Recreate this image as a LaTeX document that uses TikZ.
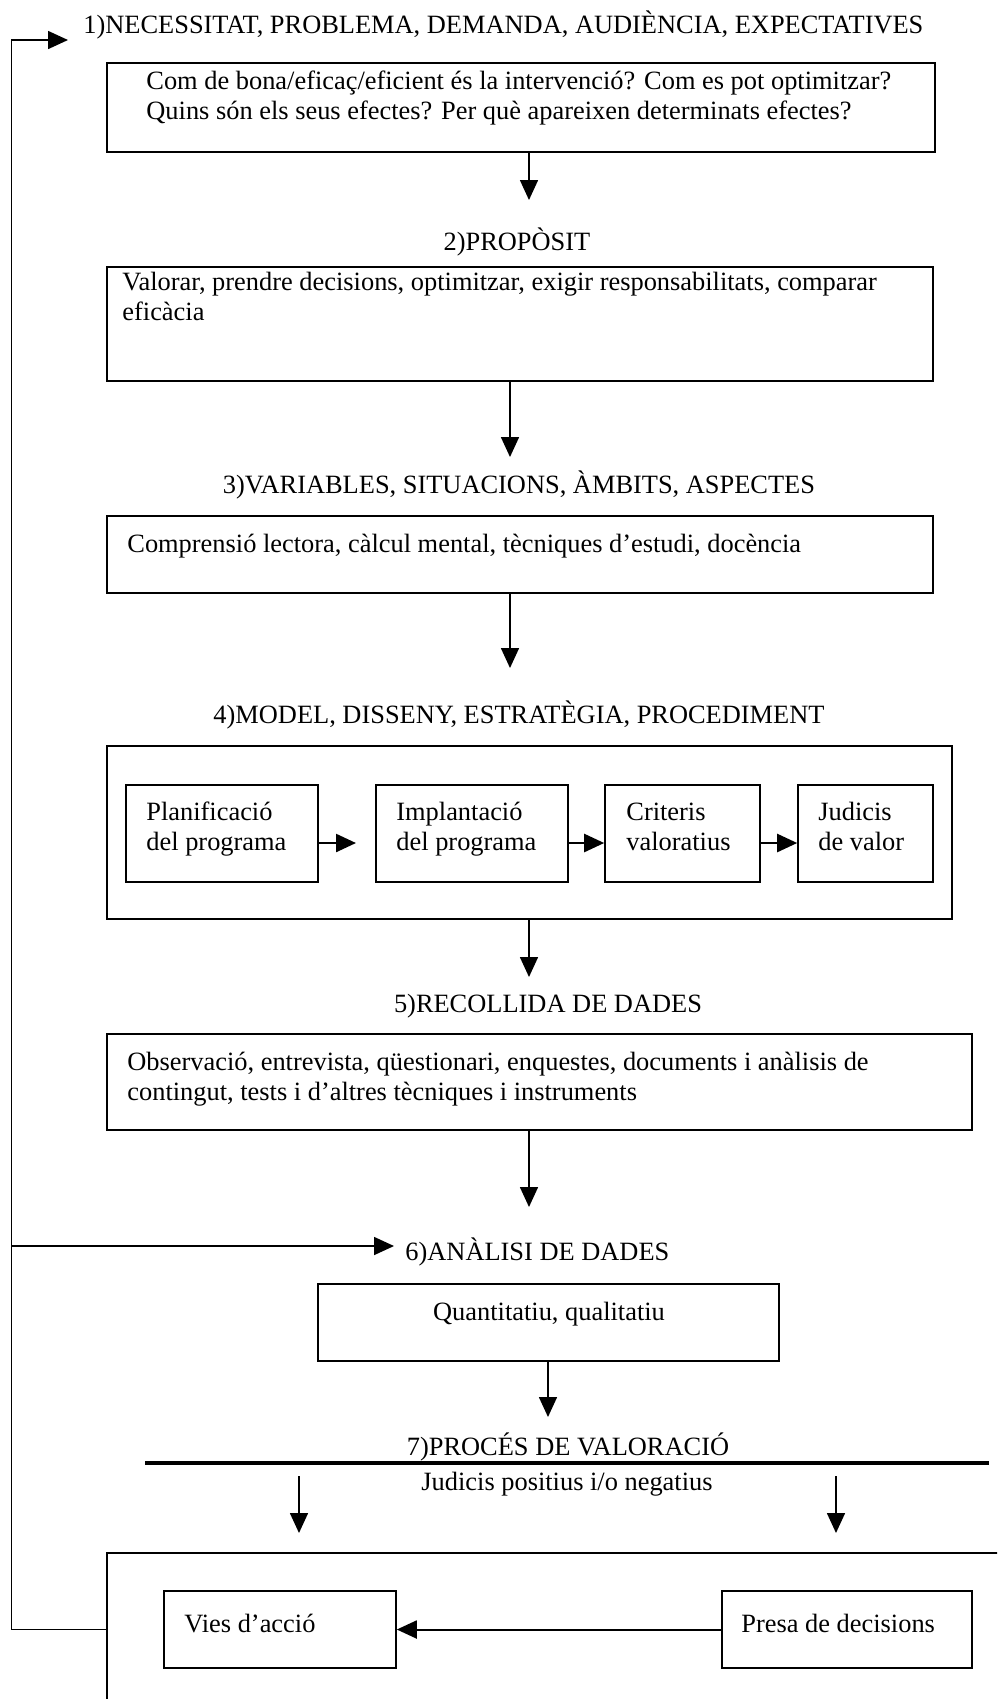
\documentclass[tikz,border=0pt]{standalone}
\usepackage{fontspec}
\setmainfont{Liberation Serif}
\usetikzlibrary{arrows.meta,fit,calc}
\begin{document}
\begin{tikzpicture}[x=0.5pt,y=-0.5pt,
  box/.style={draw, line width=0.8pt, inner sep=0pt},
  txt/.style={inner sep=0pt, align=left, font=\fontsize{13.2}{14.8}\selectfont},
  ttl/.style={inner sep=0pt, font=\fontsize{13.2}{14.8}\selectfont},
  arr/.style={line width=0.8pt, -{Triangle[length=10pt,width=9pt]}},
  larr/.style={line width=1.2pt, -{Triangle[length=10pt,width=9pt]}},
  thickln/.style={line width=2.25pt}]
\useasboundingbox (0,0) rectangle (997,1699);
\clip (0,0) rectangle (997,1699);
\fill[white] (0,0) rectangle (997,1699);

% 1
\node[ttl, anchor=base west] (t1) at (83,33) {1)NECESSITAT, PROBLEMA, DEMANDA, AUDIÈNCIA, EXPECTATIVES};
\node[box, fit={(107,63) (935,152)}] (b1) {};
\node[txt, anchor=base west] (x1) at (146,119) {Com de bona/eficaç/eficient és la intervenció? Com es pot optimitzar?\\Quins són els seus efectes? Per què apareixen determinats efectes?};
\coordinate (a1) at (529,200);
\draw[arr] (b1.south -| a1) -- (a1);

% 2
\node[ttl, anchor=base] (t2) at (517,250) {2)PROPÒSIT};
\node[box, fit={(107,267) (933,381)}] (b2) {};
\node[txt, anchor=base west] (x2) at (122,320) {Valorar, prendre decisions, optimitzar, exigir responsabilitats, comparar\\eficàcia};
\coordinate (a2) at (510,457);
\draw[arr] (b2.south -| a2) -- (a2);

% 3
\node[ttl, anchor=base] (t3) at (519,493) {3)VARIABLES, SITUACIONS, ÀMBITS, ASPECTES};
\node[box, fit={(107,516) (933,593)}] (b3) {};
\node[txt, anchor=base west] (x3) at (127,552) {Comprensió lectora, càlcul mental, tècniques d’estudi, docència};
\coordinate (a3) at (510,668);
\draw[arr] (b3.south -| a3) -- (a3);

% 4
\node[ttl, anchor=base] (t4) at (519,723) {4)MODEL, DISSENY, ESTRATÈGIA, PROCEDIMENT};
\node[box, fit={(107,746) (952,919)}] (b4) {};
\node[box, fit={(126,785) (318,882)}] (p1) {};
\node[box, fit={(376,785) (568,882)}] (p2) {};
\node[box, fit={(605,785) (760,882)}] (p3) {};
\node[box, fit={(798,785) (933,882)}] (p4) {};
\node[txt, anchor=base west] (y1) at (146,850) {Planificació\\del programa};
\node[txt, anchor=base west] (y2) at (396,850) {Implantació\\del programa};
\node[txt, anchor=base west] (y3) at (626,850) {Criteris\\valoratius};
\node[txt, anchor=base west] (y4) at (818,850) {Judicis\\de valor};
\coordinate (p1tip) at (356,843);
\draw[larr] (p1.east |- p1tip) -- (p1tip);
\draw[larr] (p2.east |- p1tip) -- (p3.west |- p1tip);
\draw[larr] (p3.east |- p1tip) -- (p4.west |- p1tip);
\coordinate (a4) at (529,977);
\draw[arr] (b4.south -| a4) -- (a4);

% 5
\node[ttl, anchor=base] (t5) at (548,1012) {5)RECOLLIDA DE DADES};
\node[box, fit={(107,1034) (972,1130)}] (b5) {};
\node[txt, anchor=base west] (x5) at (127,1100) {Observació, entrevista, qüestionari, enquestes, documents i anàlisis de\\contingut, tests i d’altres tècniques i instruments};
\coordinate (a5) at (529,1207);
\draw[arr] (b5.south -| a5) -- (a5);

% 6
\node[ttl, anchor=base west] (t6) at (405,1260) {6)ANÀLISI DE DADES};
\node[box, fit={(318,1284) (779,1361)}] (b6) {};
\node[ttl, anchor=base] (x6) at (549,1320) {Quantitatiu, qualitatiu};
\coordinate (a6) at (548,1417);
\draw[arr] (b6.south -| a6) -- (a6);

% 7
\node[ttl, anchor=base] (t7) at (568,1455) {7)PROCÉS DE VALORACIÓ};
\coordinate (hl1) at (145,1463);
\coordinate (hl2) at (989,1463);
\draw[thickln] (hl1) -- (hl2);
\node[ttl, anchor=base] (x7) at (567,1490) {Judicis positius i/o negatius};
\coordinate (d1s) at (299,1476);
\coordinate (d1e) at (299,1533);
\coordinate (d2s) at (836,1476);
\coordinate (d2e) at (836,1533);
\draw[arr] (d1s) -- (d1e);
\draw[arr] (d2s) -- (d2e);

% bottom
\node[box, fit={(107,1553) (1060,1760)}] (b8) {};
\node[box, fit={(164,1591) (396,1668)}] (v1) {};
\node[box, fit={(722,1591) (972,1668)}] (v2) {};
\node[ttl, anchor=base west] (w1) at (184,1632) {Vies d’acció};
\node[ttl, anchor=base west] (w2) at (741,1632) {Presa de decisions};
\draw[arr, line width=1pt] (v2.west) -- (v1.east);

% feedback
\coordinate (fbL) at (11.5,40);
\coordinate (fbtip) at (68,40);
\draw[arr] (v1.west -| b8.west) -| (fbL) -- (fbtip);
\coordinate (a6tip) at (394,1246);
\draw[arr] (fbL |- a6tip) -- (a6tip);
\end{tikzpicture}
\end{document}
